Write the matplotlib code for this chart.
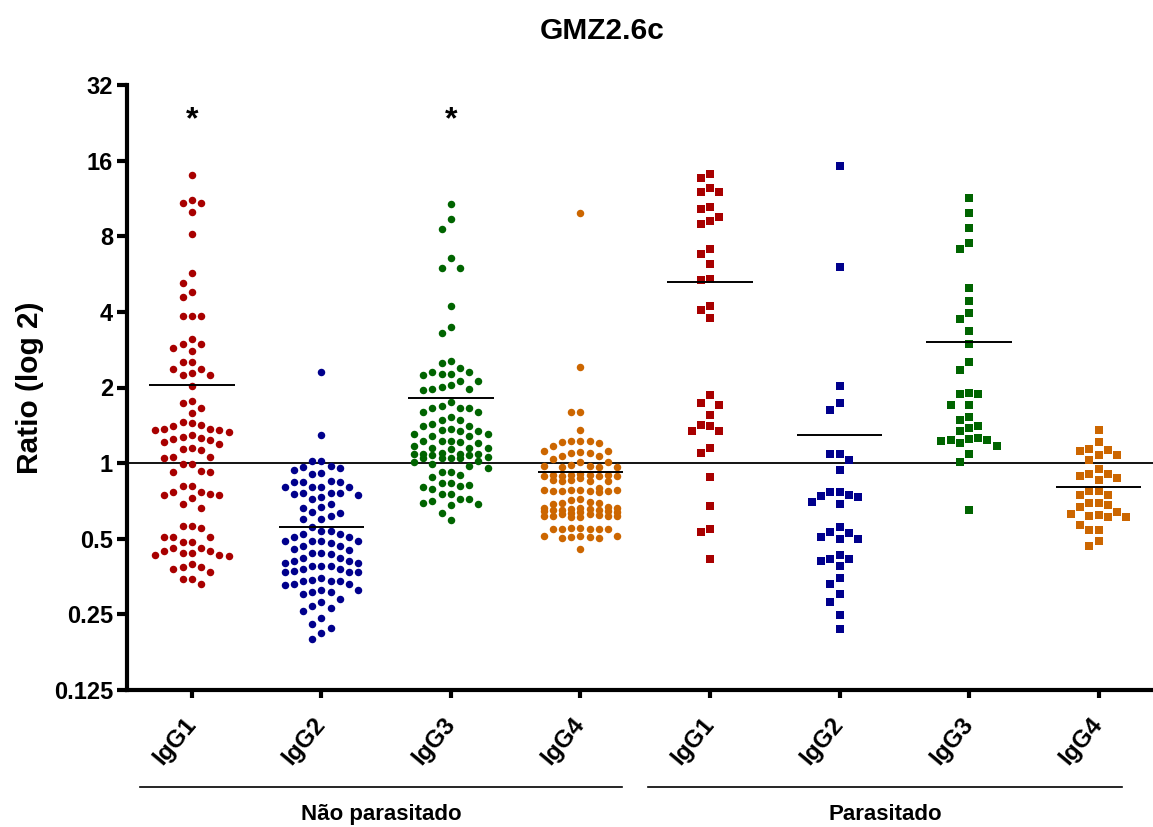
import numpy as np
import matplotlib
matplotlib.use('Agg')
import matplotlib.pyplot as plt
from matplotlib.transforms import blended_transform_factory

plt.rcParams['font.family'] = ['Liberation Sans', 'DejaVu Sans']
plt.rcParams['font.weight'] = 'bold'

# ---- data (ratio values) ----
categories = ["IgG1", "IgG2", "IgG3", "IgG4", "IgG1", "IgG2", "IgG3", "IgG4"]
group_names = ["Não parasitado", "Parasitado"]

np_igg1 = [14.0, 11.2, 10.9, 10.9, 9.97, 8.2, 5.69, 5.22, 4.79, 4.57, 3.86, 3.86, 3.86,
           3.11, 2.98, 2.98, 2.88, 2.79, 2.52, 2.52, 2.36, 2.36, 2.28, 2.24, 2.24, 2.03,
           1.76, 1.73, 1.66, 1.59,
           1.46, 1.42, 1.37, 1.35, 1.33, 1.35, 1.37, 1.40, 1.44,
           1.27, 1.25, 1.21, 1.19, 1.24, 1.26, 1.29,
           1.14, 1.06, 1.047, 1.06, 1.13, 1.15,
           0.99, 0.918, 0.918, 0.93, 0.99,
           0.81, 0.764, 0.748, 0.748, 0.752, 0.725, 0.764, 0.81,
           0.687, 0.66,
           0.56, 0.551, 0.56,
           0.509, 0.486, 0.486, 0.509, 0.509,
           0.459, 0.448, 0.438, 0.43, 0.425, 0.43, 0.438, 0.448, 0.459,
           0.387, 0.378, 0.37, 0.387, 0.396,
           0.347, 0.347, 0.329]

np_igg2 = [2.3, 1.29, 1.02, 1.02, 0.975, 0.953, 0.938, 0.967, 0.904, 0.91,
           0.838, 0.838, 0.838, 0.85,
           0.80, 0.80, 0.758, 0.753, 0.746, 0.758, 0.758, 0.80, 0.80,
           0.719, 0.734,
           0.66, 0.636, 0.666, 0.687, 0.64,
           0.617, 0.599, 0.599,
           0.555, 0.538, 0.522, 0.522, 0.538,
           0.506, 0.49, 0.488, 0.469, 0.469, 0.48, 0.49, 0.49, 0.51,
           0.457, 0.44, 0.434, 0.44, 0.45,
           0.408, 0.40, 0.42, 0.40, 0.42, 0.408,
           0.39, 0.378, 0.37, 0.367, 0.37, 0.373, 0.378, 0.39, 0.39,
           0.343, 0.338, 0.33, 0.328, 0.33, 0.338, 0.338, 0.349,
           0.313, 0.308, 0.30, 0.308, 0.313,
           0.288, 0.279, 0.27, 0.266,
           0.258, 0.241, 0.228, 0.22, 0.21, 0.20]

np_igg3 = [10.8, 9.34, 8.58, 6.55, 5.98, 5.98, 4.21, 3.47, 3.31,
           2.54, 2.51,
           2.40, 2.31, 2.31, 2.26, 2.24, 2.26,
           2.12, 2.01, 1.97, 1.96, 1.97, 2.04, 2.12,
           1.745, 1.66, 1.65, 1.60, 1.60, 1.66, 1.69,
           1.52, 1.49, 1.40, 1.40, 1.37, 1.43, 1.49,
           1.35, 1.34, 1.305, 1.28, 1.28, 1.305, 1.34,
           1.21, 1.23, 1.23, 1.23, 1.17, 1.15, 1.15, 1.15, 1.20,
           1.14, 1.09, 1.09, 1.09, 1.10, 1.09, 1.08, 1.08, 1.05, 1.05, 1.05, 1.05, 1.06,
           1.02, 1.006, 0.976, 0.99, 0.96,
           0.918, 0.896, 0.877, 0.918,
           0.833, 0.81, 0.788, 0.805, 0.817, 0.833,
           0.753, 0.723, 0.704, 0.69, 0.682, 0.697, 0.719, 0.753,
           0.632, 0.592]

np_igg4 = [9.87, 2.42, 1.6, 1.6, 1.36,
           1.227, 1.22, 1.20, 1.21, 1.22, 1.165,
           1.12, 1.095, 1.07, 1.07, 1.095, 1.11, 1.12,
           1.037, 1.015, 1.006,
           0.976, 0.961, 0.961, 0.961, 0.976, 0.98,
           0.90, 0.895, 0.89, 0.885, 0.885, 0.89, 0.90, 0.90, 0.905,
           0.87, 0.86, 0.85, 0.855, 0.85, 0.85,
           0.795, 0.785, 0.775, 0.775, 0.78, 0.772, 0.77, 0.772, 0.78, 0.78,
           0.72, 0.71, 0.70, 0.695, 0.695, 0.69,
           0.67, 0.665, 0.662, 0.66, 0.657, 0.655, 0.652,
           0.65, 0.648, 0.645, 0.643, 0.64, 0.638, 0.635,
           0.625, 0.615, 0.615, 0.61, 0.61, 0.615, 0.615, 0.62, 0.625,
           0.55, 0.548, 0.545, 0.545, 0.545, 0.548, 0.55,
           0.515, 0.51, 0.515, 0.51, 0.515, 0.505, 0.505,
           0.457]

p_igg1 = [14.1, 13.6, 12.4, 12.0, 12.0, 10.5, 10.3, 9.57, 9.2, 8.94, 7.11, 6.83, 6.2,
          5.4, 5.35, 4.23, 4.06, 3.77, 1.87, 1.73, 1.71, 1.55, 1.42, 1.34, 1.34, 1.40,
          1.10, 1.147, 0.877, 0.676, 0.549, 0.53, 0.417]

p_igg2 = [15.2, 6.05, 2.02, 1.74, 1.63, 1.086, 1.086, 1.03, 0.938, 0.764, 0.741, 0.768,
          0.70, 0.687, 0.73, 0.75, 0.558, 0.526, 0.50, 0.50, 0.51, 0.53, 0.43, 0.417,
          0.39, 0.408, 0.417, 0.348, 0.33, 0.30, 0.279, 0.249, 0.218]

p_igg3 = [11.4, 9.93, 8.62, 7.49, 7.11, 5.0, 4.42, 3.96, 3.73, 3.35, 2.98, 2.52, 2.35,
          1.88, 1.90, 1.88, 1.71, 1.71, 1.52, 1.49, 1.40, 1.38, 1.34, 1.26, 1.24, 1.23,
          1.17, 1.20, 1.24, 1.25, 1.09, 1.006, 0.65]

p_igg4 = [1.35, 1.21, 1.13, 1.08, 1.03, 1.075, 1.12, 1.14, 0.95, 0.904, 0.89, 0.858,
          0.87, 0.904, 0.776, 0.776, 0.75, 0.75, 0.691, 0.68, 0.691, 0.67, 0.63, 0.617,
          0.61, 0.61, 0.62, 0.64, 0.568, 0.541, 0.541, 0.49, 0.469]

series = [np_igg1, np_igg2, np_igg3, np_igg4, p_igg1, p_igg2, p_igg3, p_igg4]
colors = ['#A80000', '#00008C', '#006400', '#CC6600'] * 2
markers = ['o'] * 4 + ['s'] * 4
significant = [0, 2]   # groups marked with *

yticks = [0.125, 0.25, 0.5, 1, 2, 4, 8, 16, 32]
yticklabels = ['0.125', '0.25', '0.5', '1', '2', '4', '8', '16', '32']

# ---- figure ----
W, H = 1153, 827
fig = plt.figure(figsize=(W / 100, H / 100), dpi=100)
ax = fig.add_axes([127 / W, 1 - 690 / H, (W - 127) / W, (690 - 85) / H])

ax.set_yscale('log', base=2)
ax.set_ylim(0.125, 32)
ax.set_xlim(-0.5, 7.42)


def swarm(vals, xc, step_px=9.2, gap_px=10.5, max_col=4):
    # simple column-based beeswarm in pixel space
    vals = np.asarray(vals, dtype=float)
    ypx = ax.transData.transform(np.column_stack([np.full(len(vals), xc), vals]))[:, 1]
    order = np.argsort(-ypx, kind='stable')
    cand = [0]
    for k in range(1, max_col + 1):
        cand += [-k, k]
    placed = {}
    cols = np.zeros(len(vals))
    for i in order:
        pick, best_k, best_clear = None, 0, -1
        for k in cand:
            ys = placed.get(k, [])
            clear = min([abs(ypx[i] - y) for y in ys], default=np.inf)
            if clear >= gap_px:
                pick = k
                break
            if clear > best_clear:
                best_clear, best_k = clear, k
        if pick is None:
            pick = best_k
        cols[i] = pick
        placed.setdefault(pick, []).append(ypx[i])
    p0 = ax.transData.transform([[0, 1], [1, 1]])
    px_per_x = p0[1, 0] - p0[0, 0]
    return xc + cols * step_px / px_per_x


for i, (vals, c, m) in enumerate(zip(series, colors, markers)):
    xs = swarm(vals, i)
    ax.plot(xs, vals, linestyle='none', marker=m, ms=5.4, color=c, mew=0, zorder=3)
    ax.hlines(np.mean(vals), i - 0.33, i + 0.33, color='black', lw=1.4, zorder=4)

ax.axhline(1, color='black', lw=1.3, zorder=2)

for i in significant:
    ax.text(i, 21.5, '*', ha='center', va='baseline', fontsize=23)

# axes styling
for s in ['top', 'right']:
    ax.spines[s].set_visible(False)
ax.spines['left'].set_linewidth(3)
ax.spines['bottom'].set_linewidth(3)

ax.set_yticks(yticks)
ax.set_yticklabels(yticklabels)
ax.yaxis.set_minor_locator(matplotlib.ticker.NullLocator())
ax.tick_params(axis='y', length=7, width=3, pad=3, labelsize=17)

ax.set_xticks(range(len(categories)))
ax.set_xticklabels(categories)
ax.tick_params(axis='x', length=6, width=3, pad=16, labelsize=17.5)
for lbl in ax.get_xticklabels():
    lbl.set_rotation(50)
    lbl.set_ha('right')
    lbl.set_va('center')
    lbl.set_rotation_mode('anchor')

# group brackets below the axis
trans = blended_transform_factory(ax.transData, ax.transAxes)
for g, name in enumerate(group_names):
    x0 = g * 4 - 0.40 + (0.0 if g == 0 else -0.08)
    x1 = g * 4 + 3.32 + (0.0 if g == 0 else -0.14)
    ax.plot([x0, x1], [-0.160, -0.160], color='black', lw=1.2,
            transform=trans, clip_on=False)
    ax.text((x0 + x1) / 2, -0.205, name, ha='center', va='center',
            fontsize=16, transform=trans)

fig.text(602 / W, 1 - 31 / H, 'GMZ2.6c', ha='center', va='center', fontsize=21.5)
fig.text(30 / W, 1 - 388 / H, 'Ratio (log 2)', rotation=90,
         ha='center', va='center', fontsize=21.5)

fig.savefig('out.png', dpi=100)
